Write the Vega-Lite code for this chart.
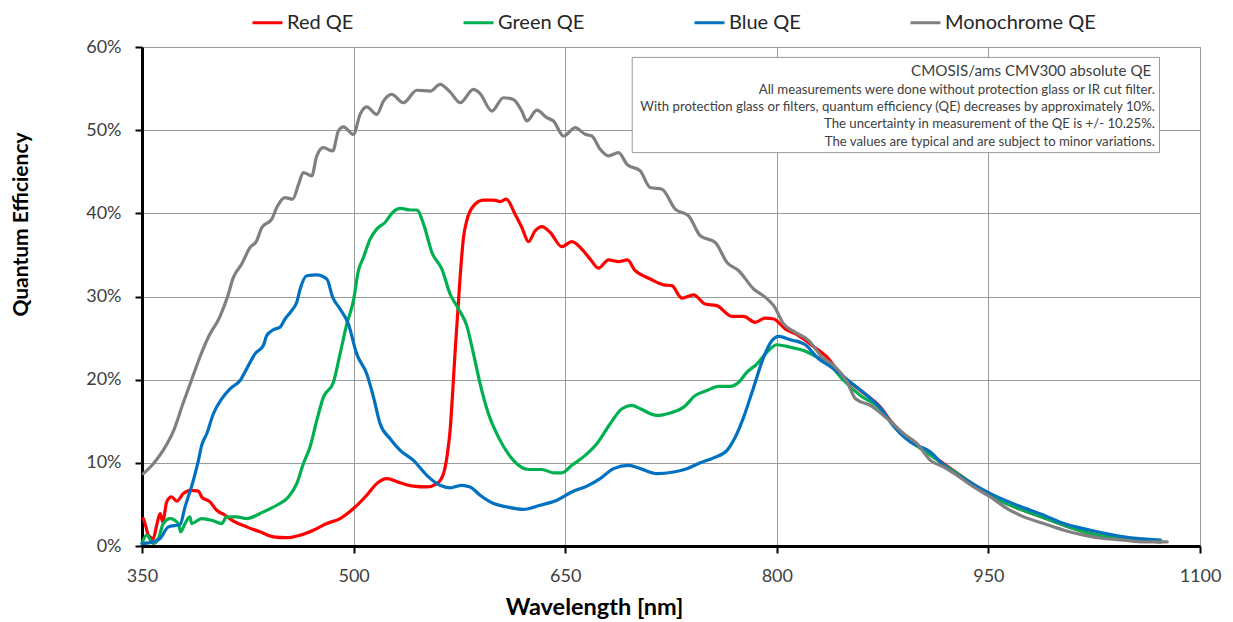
{
  "$schema": "https://vega.github.io/schema/vega-lite/v6.json",
  "autosize": {"type": "none"},
  "padding": {"left": 142, "top": 47, "right": 33, "bottom": 76},
  "width": 1058,
  "height": 499,
  "background": "white",
  "config": {
    "font": "Lato",
    "view": {"stroke": "#9a9a9a", "strokeWidth": 1},
    "axis": {
      "labelFont": "Lato",
      "labelFontSize": 18,
      "labelColor": "#404040",
      "titleFont": "Lato",
      "titleFontSize": 21,
      "titleFontWeight": "bold",
      "titleColor": "#000000",
      "domainColor": "#000000",
      "domainWidth": 3,
      "tickColor": "#000000",
      "tickWidth": 2,
      "tickSize": 7,
      "gridColor": "#9a9a9a",
      "gridWidth": 1,
      "labelOverlap": false,
      "labelFlush": false
    }
  },
  "datasets": {
    "qe": [
      {"s": "Red QE", "w": 351, "q": 3.3}, {"s": "Red QE", "w": 352.8, "q": 2.3}, {"s": "Red QE", "w": 354.5, "q": 1.3}, {"s": "Red QE", "w": 358, "q": 0.9}, {"s": "Red QE", "w": 360.4, "q": 2.5}, {"s": "Red QE", "w": 362.8, "q": 3.9}, {"s": "Red QE", "w": 364.7, "q": 2.9}, {"s": "Red QE", "w": 367.5, "q": 5.3}, {"s": "Red QE", "w": 371, "q": 5.9}, {"s": "Red QE", "w": 374.6, "q": 5.4}, {"s": "Red QE", "w": 379.3, "q": 6.3}, {"s": "Red QE", "w": 384, "q": 6.7}, {"s": "Red QE", "w": 390, "q": 6.6}, {"s": "Red QE", "w": 392.3, "q": 5.9}, {"s": "Red QE", "w": 398.2, "q": 5.3}, {"s": "Red QE", "w": 403, "q": 4.3}, {"s": "Red QE", "w": 408.9, "q": 3.7}, {"s": "Red QE", "w": 414.8, "q": 3.0}, {"s": "Red QE", "w": 424.2, "q": 2.3}, {"s": "Red QE", "w": 433.7, "q": 1.7}, {"s": "Red QE", "w": 443.1, "q": 1.1}, {"s": "Red QE", "w": 452.6, "q": 1.0}, {"s": "Red QE", "w": 462.1, "q": 1.3}, {"s": "Red QE", "w": 471.5, "q": 1.9}, {"s": "Red QE", "w": 481, "q": 2.7}, {"s": "Red QE", "w": 490.4, "q": 3.3}, {"s": "Red QE", "w": 499.9, "q": 4.5}, {"s": "Red QE", "w": 509.3, "q": 6.1}, {"s": "Red QE", "w": 516.4, "q": 7.5}, {"s": "Red QE", "w": 523.5, "q": 8.1}, {"s": "Red QE", "w": 533, "q": 7.6}, {"s": "Red QE", "w": 542.4, "q": 7.2}, {"s": "Red QE", "w": 551.9, "q": 7.1}, {"s": "Red QE", "w": 559, "q": 7.5}, {"s": "Red QE", "w": 563.7, "q": 8.7}, {"s": "Red QE", "w": 566.5, "q": 11.1}, {"s": "Red QE", "w": 568.4, "q": 13.9}, {"s": "Red QE", "w": 570.3, "q": 18.7}, {"s": "Red QE", "w": 572, "q": 23.5}, {"s": "Red QE", "w": 573.6, "q": 27.5}, {"s": "Red QE", "w": 575.5, "q": 32.3}, {"s": "Red QE", "w": 577.9, "q": 37.1}, {"s": "Red QE", "w": 580.2, "q": 39.1}, {"s": "Red QE", "w": 585, "q": 40.9}, {"s": "Red QE", "w": 592, "q": 41.6}, {"s": "Red QE", "w": 599.2, "q": 41.6}, {"s": "Red QE", "w": 603.9, "q": 41.4}, {"s": "Red QE", "w": 608.2, "q": 41.7}, {"s": "Red QE", "w": 614.5, "q": 39.9}, {"s": "Red QE", "w": 619.3, "q": 38.3}, {"s": "Red QE", "w": 624, "q": 36.6}, {"s": "Red QE", "w": 628.7, "q": 37.9}, {"s": "Red QE", "w": 633.5, "q": 38.4}, {"s": "Red QE", "w": 639.4, "q": 37.7}, {"s": "Red QE", "w": 647.6, "q": 36.0}, {"s": "Red QE", "w": 654.7, "q": 36.6}, {"s": "Red QE", "w": 661.8, "q": 35.7}, {"s": "Red QE", "w": 667.7, "q": 34.5}, {"s": "Red QE", "w": 673.6, "q": 33.4}, {"s": "Red QE", "w": 680.7, "q": 34.4}, {"s": "Red QE", "w": 687.8, "q": 34.2}, {"s": "Red QE", "w": 694.2, "q": 34.4}, {"s": "Red QE", "w": 699.6, "q": 33.1}, {"s": "Red QE", "w": 703.2, "q": 32.7}, {"s": "Red QE", "w": 710.3, "q": 32.1}, {"s": "Red QE", "w": 719.7, "q": 31.4}, {"s": "Red QE", "w": 725.6, "q": 31.3}, {"s": "Red QE", "w": 732.7, "q": 29.8}, {"s": "Red QE", "w": 741, "q": 30.2}, {"s": "Red QE", "w": 749.2, "q": 29.1}, {"s": "Red QE", "w": 757.5, "q": 28.9}, {"s": "Red QE", "w": 768.2, "q": 27.6}, {"s": "Red QE", "w": 776.5, "q": 27.6}, {"s": "Red QE", "w": 784.7, "q": 26.9}, {"s": "Red QE", "w": 791.8, "q": 27.4}, {"s": "Red QE", "w": 797.8, "q": 27.3}, {"s": "Red QE", "w": 806, "q": 26.1}, {"s": "Red QE", "w": 815.5, "q": 25.3}, {"s": "Red QE", "w": 825, "q": 24.1}, {"s": "Red QE", "w": 835.6, "q": 22.7}, {"s": "Red QE", "w": 845.1, "q": 20.7}, {"s": "Red QE", "w": 859.3, "q": 18.7}, {"s": "Red QE", "w": 873.4, "q": 16.7}, {"s": "Red QE", "w": 880.5, "q": 15.1}, {"s": "Red QE", "w": 895, "q": 12.7}, {"s": "Red QE", "w": 910, "q": 10.9}, {"s": "Red QE", "w": 920, "q": 9.7}, {"s": "Red QE", "w": 935, "q": 7.9}, {"s": "Red QE", "w": 951.4, "q": 6.1}, {"s": "Red QE", "w": 970, "q": 4.6}, {"s": "Red QE", "w": 989.3, "q": 3.4}, {"s": "Red QE", "w": 1005, "q": 2.4}, {"s": "Red QE", "w": 1022.4, "q": 1.5}, {"s": "Red QE", "w": 1040, "q": 1.0}, {"s": "Red QE", "w": 1057.8, "q": 0.7}, {"s": "Red QE", "w": 1072, "q": 0.5},

      {"s": "Green QE", "w": 350, "q": 0.3}, {"s": "Green QE", "w": 353.3, "q": 1.3}, {"s": "Green QE", "w": 358, "q": 0.3}, {"s": "Green QE", "w": 361.6, "q": 0.9}, {"s": "Green QE", "w": 365.1, "q": 2.7}, {"s": "Green QE", "w": 369.9, "q": 3.3}, {"s": "Green QE", "w": 375.8, "q": 2.7}, {"s": "Green QE", "w": 377.4, "q": 1.7}, {"s": "Green QE", "w": 380.5, "q": 2.7}, {"s": "Green QE", "w": 384, "q": 3.5}, {"s": "Green QE", "w": 385.2, "q": 2.7}, {"s": "Green QE", "w": 392.3, "q": 3.3}, {"s": "Green QE", "w": 399.4, "q": 3.1}, {"s": "Green QE", "w": 406.5, "q": 2.7}, {"s": "Green QE", "w": 410, "q": 3.5}, {"s": "Green QE", "w": 417.1, "q": 3.5}, {"s": "Green QE", "w": 424.2, "q": 3.3}, {"s": "Green QE", "w": 436, "q": 4.1}, {"s": "Green QE", "w": 445.5, "q": 4.9}, {"s": "Green QE", "w": 453.8, "q": 5.9}, {"s": "Green QE", "w": 459.7, "q": 7.5}, {"s": "Green QE", "w": 464.4, "q": 9.9}, {"s": "Green QE", "w": 469.1, "q": 11.9}, {"s": "Green QE", "w": 473.9, "q": 15.1}, {"s": "Green QE", "w": 478.6, "q": 17.9}, {"s": "Green QE", "w": 485.7, "q": 19.7}, {"s": "Green QE", "w": 490.4, "q": 23.1}, {"s": "Green QE", "w": 495.2, "q": 26.7}, {"s": "Green QE", "w": 499.9, "q": 29.5}, {"s": "Green QE", "w": 503.4, "q": 33.1}, {"s": "Green QE", "w": 507, "q": 34.7}, {"s": "Green QE", "w": 511.7, "q": 36.9}, {"s": "Green QE", "w": 516.4, "q": 38.1}, {"s": "Green QE", "w": 522.3, "q": 38.9}, {"s": "Green QE", "w": 528.2, "q": 40.2}, {"s": "Green QE", "w": 533, "q": 40.6}, {"s": "Green QE", "w": 540.1, "q": 40.4}, {"s": "Green QE", "w": 544.8, "q": 40.4}, {"s": "Green QE", "w": 549.6, "q": 38.7}, {"s": "Green QE", "w": 555.5, "q": 35.3}, {"s": "Green QE", "w": 562.6, "q": 33.3}, {"s": "Green QE", "w": 568.4, "q": 30.3}, {"s": "Green QE", "w": 574.4, "q": 28.5}, {"s": "Green QE", "w": 580.2, "q": 26.5}, {"s": "Green QE", "w": 585, "q": 23.1}, {"s": "Green QE", "w": 589.7, "q": 19.5}, {"s": "Green QE", "w": 595.6, "q": 15.9}, {"s": "Green QE", "w": 603.9, "q": 12.7}, {"s": "Green QE", "w": 613.3, "q": 10.3}, {"s": "Green QE", "w": 624, "q": 9.2}, {"s": "Green QE", "w": 633.5, "q": 9.2}, {"s": "Green QE", "w": 641.7, "q": 8.8}, {"s": "Green QE", "w": 647.6, "q": 8.8}, {"s": "Green QE", "w": 654.7, "q": 9.7}, {"s": "Green QE", "w": 664.2, "q": 10.9}, {"s": "Green QE", "w": 672.4, "q": 12.3}, {"s": "Green QE", "w": 681.9, "q": 14.7}, {"s": "Green QE", "w": 690.2, "q": 16.5}, {"s": "Green QE", "w": 697.3, "q": 16.9}, {"s": "Green QE", "w": 703.2, "q": 16.5}, {"s": "Green QE", "w": 715, "q": 15.7}, {"s": "Green QE", "w": 724.5, "q": 16.0}, {"s": "Green QE", "w": 734, "q": 16.7}, {"s": "Green QE", "w": 742.2, "q": 18.1}, {"s": "Green QE", "w": 750.5, "q": 18.7}, {"s": "Green QE", "w": 758.8, "q": 19.2}, {"s": "Green QE", "w": 767, "q": 19.2}, {"s": "Green QE", "w": 773, "q": 19.7}, {"s": "Green QE", "w": 778.9, "q": 20.9}, {"s": "Green QE", "w": 786, "q": 21.9}, {"s": "Green QE", "w": 793, "q": 23.3}, {"s": "Green QE", "w": 800.1, "q": 24.2}, {"s": "Green QE", "w": 809.6, "q": 23.9}, {"s": "Green QE", "w": 819, "q": 23.5}, {"s": "Green QE", "w": 828.5, "q": 22.7}, {"s": "Green QE", "w": 838, "q": 21.7}, {"s": "Green QE", "w": 847.4, "q": 19.9}, {"s": "Green QE", "w": 859.3, "q": 18.1}, {"s": "Green QE", "w": 873.4, "q": 16.5}, {"s": "Green QE", "w": 880.5, "q": 15.0}, {"s": "Green QE", "w": 895, "q": 12.6}, {"s": "Green QE", "w": 910, "q": 10.8}, {"s": "Green QE", "w": 920, "q": 9.6}, {"s": "Green QE", "w": 935, "q": 7.9}, {"s": "Green QE", "w": 951.4, "q": 6.1}, {"s": "Green QE", "w": 970, "q": 4.6}, {"s": "Green QE", "w": 989.3, "q": 3.4}, {"s": "Green QE", "w": 1005, "q": 2.4}, {"s": "Green QE", "w": 1022.4, "q": 1.5}, {"s": "Green QE", "w": 1040, "q": 1.0}, {"s": "Green QE", "w": 1057.8, "q": 0.7}, {"s": "Green QE", "w": 1072, "q": 0.5},

      {"s": "Blue QE", "w": 350, "q": 0.3}, {"s": "Blue QE", "w": 358, "q": 0.5}, {"s": "Blue QE", "w": 362.8, "q": 0.9}, {"s": "Blue QE", "w": 368.7, "q": 2.3}, {"s": "Blue QE", "w": 377, "q": 2.6}, {"s": "Blue QE", "w": 380.5, "q": 4.7}, {"s": "Blue QE", "w": 386.4, "q": 7.9}, {"s": "Blue QE", "w": 390, "q": 10.3}, {"s": "Blue QE", "w": 392.3, "q": 12.1}, {"s": "Blue QE", "w": 395.9, "q": 13.5}, {"s": "Blue QE", "w": 400.6, "q": 15.9}, {"s": "Blue QE", "w": 406.5, "q": 17.7}, {"s": "Blue QE", "w": 412.4, "q": 18.9}, {"s": "Blue QE", "w": 419.5, "q": 19.9}, {"s": "Blue QE", "w": 424.2, "q": 21.3}, {"s": "Blue QE", "w": 430.1, "q": 23.1}, {"s": "Blue QE", "w": 436, "q": 24.1}, {"s": "Blue QE", "w": 438.4, "q": 25.3}, {"s": "Blue QE", "w": 443.1, "q": 26.0}, {"s": "Blue QE", "w": 447.8, "q": 26.3}, {"s": "Blue QE", "w": 451.4, "q": 27.3}, {"s": "Blue QE", "w": 456.1, "q": 28.3}, {"s": "Blue QE", "w": 459.7, "q": 29.3}, {"s": "Blue QE", "w": 462.1, "q": 30.9}, {"s": "Blue QE", "w": 466.8, "q": 32.5}, {"s": "Blue QE", "w": 473.9, "q": 32.6}, {"s": "Blue QE", "w": 481, "q": 32.1}, {"s": "Blue QE", "w": 485.2, "q": 29.9}, {"s": "Blue QE", "w": 490.4, "q": 28.5}, {"s": "Blue QE", "w": 496.3, "q": 26.7}, {"s": "Blue QE", "w": 502.2, "q": 23.1}, {"s": "Blue QE", "w": 509.3, "q": 20.7}, {"s": "Blue QE", "w": 514.1, "q": 17.9}, {"s": "Blue QE", "w": 518.8, "q": 14.7}, {"s": "Blue QE", "w": 525.9, "q": 12.9}, {"s": "Blue QE", "w": 533, "q": 11.5}, {"s": "Blue QE", "w": 542.4, "q": 10.3}, {"s": "Blue QE", "w": 551.9, "q": 8.5}, {"s": "Blue QE", "w": 561.3, "q": 7.3}, {"s": "Blue QE", "w": 568.4, "q": 7.0}, {"s": "Blue QE", "w": 576.7, "q": 7.3}, {"s": "Blue QE", "w": 582.6, "q": 7.1}, {"s": "Blue QE", "w": 589.7, "q": 6.1}, {"s": "Blue QE", "w": 599.2, "q": 5.1}, {"s": "Blue QE", "w": 608.6, "q": 4.7}, {"s": "Blue QE", "w": 620.4, "q": 4.4}, {"s": "Blue QE", "w": 632.3, "q": 4.9}, {"s": "Blue QE", "w": 644.1, "q": 5.5}, {"s": "Blue QE", "w": 654.7, "q": 6.5}, {"s": "Blue QE", "w": 665.4, "q": 7.2}, {"s": "Blue QE", "w": 674.8, "q": 8.1}, {"s": "Blue QE", "w": 684.3, "q": 9.3}, {"s": "Blue QE", "w": 694.9, "q": 9.7}, {"s": "Blue QE", "w": 703.2, "q": 9.3}, {"s": "Blue QE", "w": 715, "q": 8.7}, {"s": "Blue QE", "w": 726.9, "q": 8.9}, {"s": "Blue QE", "w": 736.3, "q": 9.3}, {"s": "Blue QE", "w": 745.8, "q": 10.0}, {"s": "Blue QE", "w": 755.2, "q": 10.6}, {"s": "Blue QE", "w": 764.7, "q": 11.5}, {"s": "Blue QE", "w": 770.6, "q": 13.1}, {"s": "Blue QE", "w": 776.5, "q": 15.5}, {"s": "Blue QE", "w": 783.6, "q": 19.1}, {"s": "Blue QE", "w": 790.7, "q": 22.7}, {"s": "Blue QE", "w": 796.6, "q": 24.7}, {"s": "Blue QE", "w": 801.3, "q": 25.2}, {"s": "Blue QE", "w": 809.6, "q": 24.8}, {"s": "Blue QE", "w": 820.2, "q": 24.2}, {"s": "Blue QE", "w": 828.5, "q": 22.7}, {"s": "Blue QE", "w": 840.4, "q": 21.3}, {"s": "Blue QE", "w": 852.2, "q": 19.7}, {"s": "Blue QE", "w": 864, "q": 18.1}, {"s": "Blue QE", "w": 875.8, "q": 16.1}, {"s": "Blue QE", "w": 880.5, "q": 14.9}, {"s": "Blue QE", "w": 894.7, "q": 12.5}, {"s": "Blue QE", "w": 908.9, "q": 11.3}, {"s": "Blue QE", "w": 918.4, "q": 9.7}, {"s": "Blue QE", "w": 932.5, "q": 8.1}, {"s": "Blue QE", "w": 951.4, "q": 6.3}, {"s": "Blue QE", "w": 970.4, "q": 4.9}, {"s": "Blue QE", "w": 989.3, "q": 3.7}, {"s": "Blue QE", "w": 1003.5, "q": 2.7}, {"s": "Blue QE", "w": 1022.4, "q": 1.9}, {"s": "Blue QE", "w": 1046, "q": 1.1}, {"s": "Blue QE", "w": 1072, "q": 0.7},

      {"s": "Monochrome QE", "w": 351, "q": 8.7}, {"s": "Monochrome QE", "w": 358, "q": 9.9}, {"s": "Monochrome QE", "w": 365, "q": 11.5}, {"s": "Monochrome QE", "w": 372.5, "q": 13.9}, {"s": "Monochrome QE", "w": 379, "q": 17.1}, {"s": "Monochrome QE", "w": 385, "q": 19.9}, {"s": "Monochrome QE", "w": 391, "q": 22.7}, {"s": "Monochrome QE", "w": 397, "q": 25.1}, {"s": "Monochrome QE", "w": 405, "q": 27.5}, {"s": "Monochrome QE", "w": 410.5, "q": 29.9}, {"s": "Monochrome QE", "w": 414.8, "q": 32.3}, {"s": "Monochrome QE", "w": 420.7, "q": 33.9}, {"s": "Monochrome QE", "w": 426.6, "q": 35.9}, {"s": "Monochrome QE", "w": 431, "q": 36.6}, {"s": "Monochrome QE", "w": 435, "q": 38.3}, {"s": "Monochrome QE", "w": 442, "q": 39.3}, {"s": "Monochrome QE", "w": 445.5, "q": 40.7}, {"s": "Monochrome QE", "w": 451.4, "q": 41.9}, {"s": "Monochrome QE", "w": 456.8, "q": 41.7}, {"s": "Monochrome QE", "w": 461, "q": 43.5}, {"s": "Monochrome QE", "w": 464.4, "q": 44.9}, {"s": "Monochrome QE", "w": 470.3, "q": 44.5}, {"s": "Monochrome QE", "w": 473.9, "q": 46.9}, {"s": "Monochrome QE", "w": 478.6, "q": 47.9}, {"s": "Monochrome QE", "w": 485.2, "q": 47.5}, {"s": "Monochrome QE", "w": 489.2, "q": 49.9}, {"s": "Monochrome QE", "w": 492.8, "q": 50.4}, {"s": "Monochrome QE", "w": 499.9, "q": 49.5}, {"s": "Monochrome QE", "w": 504.6, "q": 51.9}, {"s": "Monochrome QE", "w": 509.3, "q": 52.8}, {"s": "Monochrome QE", "w": 516.4, "q": 51.9}, {"s": "Monochrome QE", "w": 521.2, "q": 53.5}, {"s": "Monochrome QE", "w": 527, "q": 54.3}, {"s": "Monochrome QE", "w": 535.3, "q": 53.3}, {"s": "Monochrome QE", "w": 544.8, "q": 54.8}, {"s": "Monochrome QE", "w": 554.3, "q": 54.7}, {"s": "Monochrome QE", "w": 561.3, "q": 55.5}, {"s": "Monochrome QE", "w": 568.4, "q": 54.6}, {"s": "Monochrome QE", "w": 575.5, "q": 53.3}, {"s": "Monochrome QE", "w": 585, "q": 54.9}, {"s": "Monochrome QE", "w": 589.7, "q": 54.4}, {"s": "Monochrome QE", "w": 598, "q": 52.3}, {"s": "Monochrome QE", "w": 606.2, "q": 53.9}, {"s": "Monochrome QE", "w": 613.3, "q": 53.7}, {"s": "Monochrome QE", "w": 619.2, "q": 52.3}, {"s": "Monochrome QE", "w": 622.8, "q": 51.1}, {"s": "Monochrome QE", "w": 629.9, "q": 52.4}, {"s": "Monochrome QE", "w": 637, "q": 51.5}, {"s": "Monochrome QE", "w": 641.7, "q": 51.1}, {"s": "Monochrome QE", "w": 648.9, "q": 49.3}, {"s": "Monochrome QE", "w": 657.1, "q": 50.3}, {"s": "Monochrome QE", "w": 664.2, "q": 49.5}, {"s": "Monochrome QE", "w": 668.9, "q": 49.3}, {"s": "Monochrome QE", "w": 674.8, "q": 47.7}, {"s": "Monochrome QE", "w": 680.7, "q": 46.9}, {"s": "Monochrome QE", "w": 687.8, "q": 47.3}, {"s": "Monochrome QE", "w": 693.8, "q": 45.9}, {"s": "Monochrome QE", "w": 703.2, "q": 45.1}, {"s": "Monochrome QE", "w": 710.3, "q": 43.1}, {"s": "Monochrome QE", "w": 718.6, "q": 42.9}, {"s": "Monochrome QE", "w": 728, "q": 40.5}, {"s": "Monochrome QE", "w": 737.5, "q": 39.7}, {"s": "Monochrome QE", "w": 745.8, "q": 37.3}, {"s": "Monochrome QE", "w": 756.4, "q": 36.5}, {"s": "Monochrome QE", "w": 764.7, "q": 34.1}, {"s": "Monochrome QE", "w": 773, "q": 33.1}, {"s": "Monochrome QE", "w": 783.6, "q": 30.9}, {"s": "Monochrome QE", "w": 791.9, "q": 29.9}, {"s": "Monochrome QE", "w": 797.8, "q": 28.9}, {"s": "Monochrome QE", "w": 804.9, "q": 26.7}, {"s": "Monochrome QE", "w": 812, "q": 25.8}, {"s": "Monochrome QE", "w": 822.7, "q": 24.7}, {"s": "Monochrome QE", "w": 832.1, "q": 22.7}, {"s": "Monochrome QE", "w": 840.4, "q": 21.7}, {"s": "Monochrome QE", "w": 849.9, "q": 19.7}, {"s": "Monochrome QE", "w": 855.8, "q": 17.7}, {"s": "Monochrome QE", "w": 866.4, "q": 16.9}, {"s": "Monochrome QE", "w": 877, "q": 15.5}, {"s": "Monochrome QE", "w": 890, "q": 13.5}, {"s": "Monochrome QE", "w": 899.4, "q": 12.3}, {"s": "Monochrome QE", "w": 908.9, "q": 10.3}, {"s": "Monochrome QE", "w": 918.4, "q": 9.5}, {"s": "Monochrome QE", "w": 927.8, "q": 8.5}, {"s": "Monochrome QE", "w": 939.6, "q": 7.1}, {"s": "Monochrome QE", "w": 951.4, "q": 5.9}, {"s": "Monochrome QE", "w": 963.3, "q": 4.5}, {"s": "Monochrome QE", "w": 975.1, "q": 3.5}, {"s": "Monochrome QE", "w": 989.3, "q": 2.7}, {"s": "Monochrome QE", "w": 1003.5, "q": 1.9}, {"s": "Monochrome QE", "w": 1017.7, "q": 1.3}, {"s": "Monochrome QE", "w": 1031.8, "q": 0.9}, {"s": "Monochrome QE", "w": 1046, "q": 0.7}, {"s": "Monochrome QE", "w": 1060.2, "q": 0.5}, {"s": "Monochrome QE", "w": 1076.8, "q": 0.5}
    ]
  },
  "layer": [
    {
      "data": {"name": "qe"},
      "mark": {"type": "line", "strokeWidth": 3.2, "interpolate": "monotone", "strokeJoin": "round", "strokeCap": "round"},
      "encoding": {
        "x": {
          "field": "w", "type": "quantitative",
          "scale": {"domain": [350, 1100], "nice": false, "zero": false},
          "axis": {
            "values": [350, 500, 650, 800, 950, 1100],
            "format": "d",
            "title": "Wavelength [nm]",
            "titleFontSize": 23.5,
            "labelPadding": 14,
            "titleX": 452, "titleY": 61, "titleBaseline": "middle"
          }
        },
        "y": {
          "field": "q", "type": "quantitative",
          "scale": {"domain": [0, 60], "nice": false},
          "axis": {
            "values": [0, 10, 20, 30, 40, 50, 60],
            "labelExpr": "datum.value + '%'",
            "title": "Quantum Efficiency",
            "labelPadding": 14,
            "titleX": -121, "titleY": 177, "titleBaseline": "middle"
          }
        },
        "color": {
          "field": "s", "type": "nominal",
          "scale": {
            "domain": ["Red QE", "Green QE", "Blue QE", "Monochrome QE"],
            "range": ["#ff0000", "#00b050", "#0070c0", "#808080"]
          },
          "legend": {
            "title": null,
            "orient": "none",
            "direction": "horizontal",
            "legendX": 109,
            "legendY": -41,
            "symbolType": "stroke",
            "symbolSize": 900,
            "symbolStrokeWidth": 3,
            "labelFont": "Lato",
            "labelFontSize": 20,
            "labelColor": "#262626",
            "labelOffset": 3,
            "columnPadding": 103
          }
        },
        "order": {"field": "w", "type": "quantitative"}
      }
    },
    {
      "data": {"values": [{}]},
      "mark": {"type": "rect", "fill": "white", "stroke": "#9a9a9a", "strokeWidth": 1},
      "encoding": {
        "x": {"datum": 697.5, "type": "quantitative"},
        "x2": {"datum": 1071.3},
        "y": {"datum": 58.75, "type": "quantitative"},
        "y2": {"datum": 47.3}
      }
    },
    {
      "data": {"values": [{}]},
      "mark": {"type": "text", "align": "right", "baseline": "middle", "font": "Lato", "fontSize": 15.2, "color": "#404040"},
      "encoding": {
        "x": {"datum": 1065.5, "type": "quantitative"},
        "y": {"datum": 57.1, "type": "quantitative"},
        "text": {"value": "CMOSIS/ams CMV300 absolute QE"}
      }
    },
    {
      "data": {"values": [{}]},
      "mark": {"type": "text", "align": "right", "baseline": "middle", "font": "Lato", "fontSize": 13.2, "lineHeight": 17.3, "color": "#404040"},
      "encoding": {
        "x": {"datum": 1068, "type": "quantitative"},
        "y": {"datum": 54.87, "type": "quantitative"},
        "text": {"value": [
          "All measurements were done without protection glass or IR cut filter.",
          "With protection glass or filters, quantum efficiency (QE) decreases by approximately 10%.",
          "The uncertainty in measurement of the QE is +/- 10.25%.",
          "The values are typical and are subject to minor variations."
        ]}
      }
    }
  ]
}
